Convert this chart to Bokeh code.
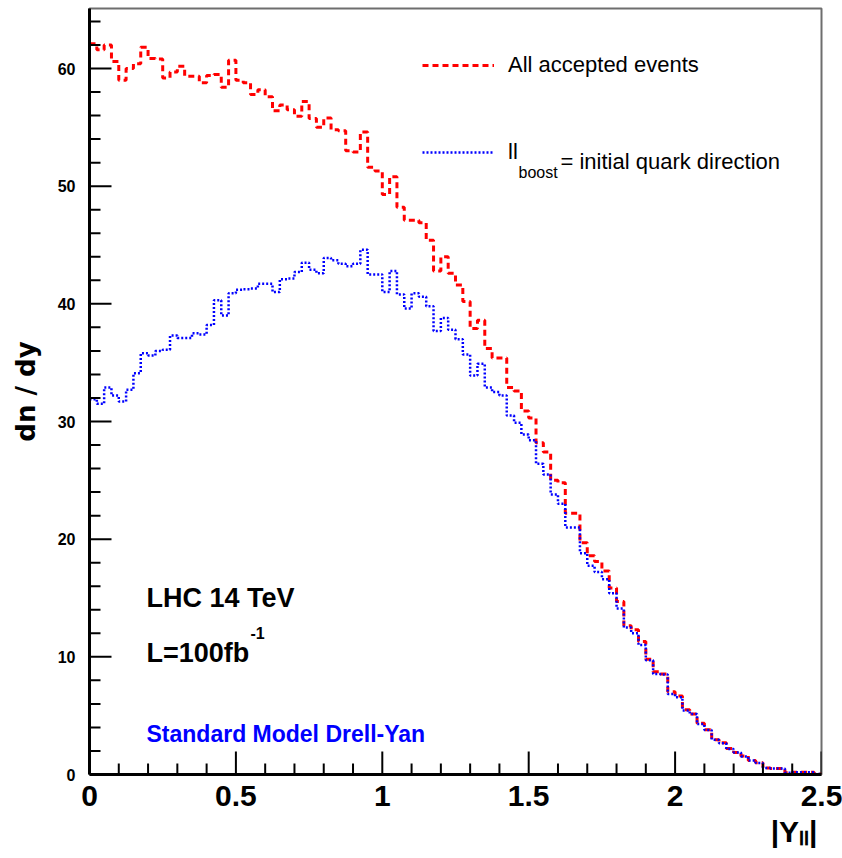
import numpy as np
from bokeh.plotting import figure
from bokeh.models import (Range1d, FixedTicker, Label, Legend, LegendItem,
                          Title, BoxAnnotation)
from bokeh.embed import file_html
from bokeh.resources import INLINE

# ---------------- data ----------------
x_min, x_max = 0.0, 2.5
y_min, y_max = 0.0, 65.1
n_bins = 100

all_events = [
    62.1, 61.6, 62.0, 60.6, 59.0, 60.0, 60.4, 61.8, 60.85, 60.8,
    59.2, 59.7, 60.2, 59.35, 59.35, 58.8, 59.4, 59.5, 58.4, 60.7,
    59.0, 58.8, 57.8, 58.2, 57.6, 56.4, 56.9, 56.5, 55.95, 57.2,
    55.75, 55.0, 55.8, 54.8, 54.7, 53.0, 52.9, 54.6, 51.6, 51.3,
    49.3, 50.8, 48.2, 47.1, 47.1, 46.9, 45.4, 42.8, 44.0, 42.6,
    41.6, 40.2, 37.9, 38.6, 36.2, 35.4, 35.4, 32.9, 32.6, 30.9,
    30.3, 28.2, 27.4, 25.0, 24.8, 22.2, 22.2, 19.7, 18.6, 18.1,
    17.3, 15.85, 14.7, 12.65, 12.3, 11.3, 9.8, 8.74, 8.54, 7.04,
    6.67, 5.51, 5.14, 4.35, 3.81, 2.96, 2.7, 2.22, 1.88, 1.57,
    1.18, 1.0, 0.55, 0.52, 0.52, 0.15, 0.2, 0.2, 0.2, 0.05,
]

boost_initial = [
    31.9, 31.5, 32.9, 32.2, 31.7, 32.7, 34.1, 35.8, 35.6, 36.0,
    36.1, 37.3, 37.1, 37.1, 37.5, 37.4, 38.2, 40.3, 39.0, 40.9,
    41.2, 41.25, 41.3, 41.7, 41.7, 41.0, 42.1, 42.15, 42.7, 43.5,
    42.9, 42.6, 43.9, 43.7, 43.4, 43.2, 43.4, 44.6, 42.5, 42.5,
    41.0, 42.8, 40.8, 39.6, 40.9, 40.6, 39.8, 37.7, 38.8, 37.8,
    37.0, 35.7, 33.9, 34.9, 32.9, 32.5, 32.2, 30.5, 29.9, 28.9,
    28.4, 26.4, 25.5, 23.8, 23.0, 21.0, 21.0, 18.8, 17.75, 17.2,
    16.6, 15.4, 14.1, 12.5, 12.0, 11.0, 9.7, 8.54, 8.5, 6.84,
    6.56, 5.43, 5.14, 4.29, 3.78, 2.96, 2.65, 2.17, 1.88, 1.54,
    1.18, 0.98, 0.55, 0.52, 0.5, 0.15, 0.2, 0.2, 0.2, 0.05,
]

x_major_ticks = [0, 0.5, 1, 1.5, 2, 2.5]
x_tick_labels = ["0", "0.5", "1", "1.5", "2", "2.5"]
x_minor_ticks = [0.1, 0.2, 0.3, 0.4, 0.6, 0.7, 0.8, 0.9, 1.1, 1.2, 1.3, 1.4,
                 1.6, 1.7, 1.8, 1.9, 2.1, 2.2, 2.3, 2.4]
y_major_ticks = [0, 10, 20, 30, 40, 50, 60]
y_minor_ticks = [2, 4, 6, 8, 12, 14, 16, 18, 22, 24, 26, 28, 32, 34, 36, 38,
                 42, 44, 46, 48, 52, 54, 56, 58, 62, 64]

label_all = "All accepted events"
label_boost_main = "ll"
label_boost_sub = "boost"
label_boost_rest = "= initial quark direction"
x_title = "|Y\u2097\u2097|"
y_title = "dn / dy"

# ---------------- figure ----------------
SANS = "Liberation Sans"

p = figure(width=842, height=858, output_backend="svg", toolbar_location=None,
           x_range=Range1d(x_min, x_max), y_range=Range1d(y_min, y_max))
p.min_border_left = 89
p.min_border_right = 21
p.min_border_top = 8
p.min_border_bottom = 84
p.background_fill_color = "white"
p.border_fill_color = "white"
p.grid.visible = False
p.outline_line_color = "#6e6e6e"
p.outline_line_width = 2

px = 732 / (x_max - x_min)      # pixels per x unit (frame width 732)
py = 766 / (y_max - y_min)      # pixels per y unit (frame height 766)

edges = np.linspace(x_min, x_max, n_bins + 1)
red = p.step(x=edges, y=all_events + [all_events[-1]], mode="after",
             line_color="#ff0000", line_width=3, line_dash="6 4")
blue = p.step(x=edges, y=boost_initial + [boost_initial[-1]], mode="after",
              line_color="#0000ff", line_width=2.5, line_dash="2 2")

# inward tick marks as thin boxes along the axes
for t in x_major_ticks + x_minor_ticks:
    length = (23 if t in x_major_ticks else 11) / py
    p.add_layout(BoxAnnotation(left=t - 1.0 / px, right=t + 1.0 / px,
                               bottom=y_min, top=y_min + length,
                               fill_color="black", fill_alpha=1.0,
                               line_color=None))
for t in y_major_ticks + y_minor_ticks:
    length = (22 if t in y_major_ticks else 11) / px
    p.add_layout(BoxAnnotation(left=x_min, right=x_min + length,
                               bottom=t - 1.0 / py, top=t + 1.0 / py,
                               fill_color="black", fill_alpha=1.0,
                               line_color=None))

# ---- axes ----
xa = p.xaxis[0]
xa.ticker = FixedTicker(ticks=x_major_ticks, minor_ticks=x_minor_ticks)
xa.major_label_overrides = {t: s for t, s in zip(x_major_ticks, x_tick_labels)}
xa.axis_line_width = 3
xa.axis_line_color = "black"
xa.major_tick_line_color = None
xa.minor_tick_line_color = None
xa.major_label_text_font = SANS
xa.major_label_text_font_style = "bold"
xa.major_label_text_font_size = "30px"
xa.major_label_text_color = "black"
xa.major_label_standoff = 5

ya = p.yaxis[0]
ya.ticker = FixedTicker(ticks=y_major_ticks, minor_ticks=y_minor_ticks)
ya.axis_line_width = 3
ya.axis_line_color = "black"
ya.major_tick_line_color = None
ya.minor_tick_line_color = None
ya.major_label_text_font = SANS
ya.major_label_text_font_style = "bold"
ya.major_label_text_font_size = "16px"
ya.major_label_text_color = "black"
ya.major_label_standoff = 8
ya.axis_label = y_title
ya.axis_label_text_font = "DejaVu Sans"
ya.axis_label_text_font_style = "bold"
ya.axis_label_text_font_size = "26px"
ya.axis_label_text_color = "black"
ya.axis_label_standoff = 14

# x-axis title at the right end, below the tick labels
p.add_layout(Title(text=x_title, align="right", text_font=SANS,
                   text_font_style="bold", text_font_size="30px",
                   text_color="black", standoff=8, offset=4), "below")

# legend
legend = Legend(items=[LegendItem(label=label_all, renderers=[red]),
                       LegendItem(label=label_boost_main, renderers=[blue])],
                location=(333, 607), orientation="vertical",
                glyph_width=72, glyph_height=30, label_height=30,
                label_standoff=14, spacing=57, padding=0, margin=0,
                border_line_alpha=0, background_fill_alpha=0,
                label_text_font=SANS, label_text_font_size="22px",
                label_text_color="black")
p.add_layout(legend)


def lab(text, x, y, size, style="normal", color="black", font=SANS):
    p.add_layout(Label(x=x, y=y, text=text, text_font=font,
                       text_font_size=size, text_font_style=style,
                       text_color=color, text_baseline="alphabetic",
                       text_align="left"))


lab(label_boost_sub, (518 - 89) / px, (774 - 172) / py, "16px")
lab(label_boost_rest, (560 - 89) / px, (774 - 161) / py, "22px")

lab("LHC 14 TeV", (146 - 89) / px, (774 - 597) / py, "27px", "bold")
lab("L=100fb", (146 - 89) / px, (774 - 652) / py, "27px", "bold")
lab("-1", (250 - 89) / px, (774 - 632) / py, "16px", "bold")
lab("Standard Model Drell-Yan", (146 - 89) / px, (774 - 733) / py, "23px",
    "bold", "#0000ff")

open("out.html", "w").write(file_html(p, INLINE))
